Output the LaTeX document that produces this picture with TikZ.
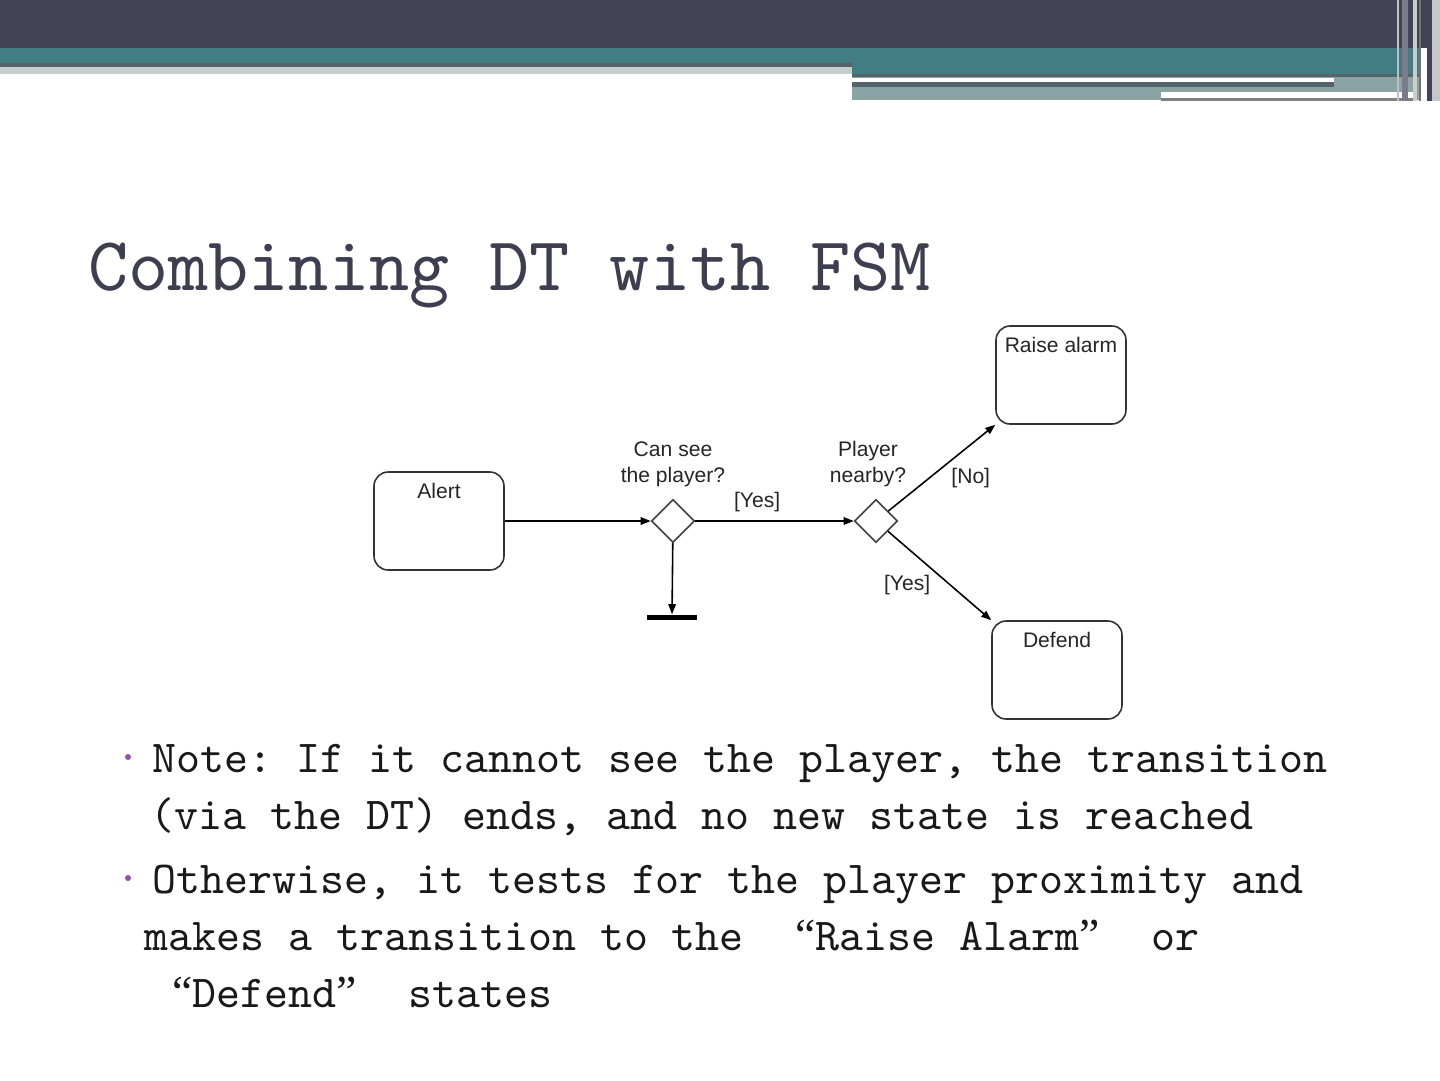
\documentclass[tikz,border=0pt]{standalone}
\usepackage{fontspec}
\setmainfont{Liberation Sans}
\newfontfamily\slidefont{lmmono10-regular.otf}
\newfontfamily\quotefont{Liberation Serif}
\newcommand\qopen{\makebox[0.525em][r]{\quotefont “}}
\newcommand\qclose{\makebox[0.525em][l]{\quotefont ”}}
\usepackage{tikz}
\usetikzlibrary{arrows.meta,positioning,shapes.geometric}
\definecolor{hdrdark}{RGB}{67,67,86}
\definecolor{hdrteal}{RGB}{66,125,132}
\definecolor{hdrslate}{RGB}{84,100,106}
\definecolor{hdrmist}{RGB}{138,163,165}
\definecolor{hdrpale}{RGB}{198,206,206}
\definecolor{titleslate}{RGB}{62,62,80}
\definecolor{bulletpurple}{RGB}{150,80,170}
\frenchspacing
\tikzset{
  state/.style={draw=black!80, line width=0.9pt, rounded corners=8pt, minimum width=2.6cm, inner xsep=0pt, inner ysep=0.2cm, text height=0.32cm, text depth=1.24cm, font=\fontsize{12}{14.8}\selectfont, text=black!85},
  choice/.style={draw=black!75, line width=0.9pt, diamond, inner sep=0pt, minimum width=0.86cm, minimum height=0.86cm},
  arr/.style={-{Triangle[length=2mm, width=1.5mm]}, line width=0.9pt},
  cond/.style={align=center, font=\fontsize{12}{14.8}\selectfont, text=black!85, inner sep=2pt},
  guard/.style={font=\fontsize{12}{14.8}\selectfont, text=black!85, inner sep=2pt},
  slidetitle/.style={anchor=base west, inner sep=0pt, font=\slidefont\fontsize{43.5}{52}\selectfont, text=titleslate},
  slidetext/.style={anchor=base west, inner sep=0pt, font=\slidefont\fontsize{26}{31}\selectfont, text=black!90},
  bulletdot/.style={circle, fill=bulletpurple, inner sep=0pt, minimum size=0.12cm}
}
\begin{document}
\begin{tikzpicture}[x=0.02cm, y=-0.02cm]
  \fill[white] (0,0) rectangle (1440,1080);
  \useasboundingbox (0,0) rectangle (1440,1080);
  % header bands
  \fill[hdrdark] (0,0) rectangle (1440,48);
  \fill[hdrteal] (0,48) rectangle (852,63);
  \fill[hdrslate] (0,63) rectangle (852,67);
  \fill[hdrpale] (0,67) rectangle (852,74);
  \fill[hdrteal] (852,48) rectangle (1420,74);
  \fill[hdrslate] (852,74) rectangle (1420,77);
  \fill[hdrmist] (852,77) rectangle (1420,100);
  \fill[white] (852,78) rectangle (1334,82);
  \fill[hdrslate] (852,82) rectangle (1334,87);
  \fill[white] (1161,92) rectangle (1414,98);
  \fill[black!50] (1161,98) rectangle (1414,101);
  \fill[black!25] (1397,0) rectangle (1399,101);
  \fill[hdrdark!70!white] (1402,0) rectangle (1408,101);
  \fill[black!20] (1413,0) rectangle (1417,101);
  \fill[black!55] (1419,0) rectangle (1421,101);
  \fill[hdrdark] (1427,0) rectangle (1432,101);
  \fill[black!22] (1432,0) rectangle (1440,101);

  \node[slidetitle] (title) at (88,290) {Combining DT with FSM};

  % diagram
  \node[state] (alert) at (439,521) {Alert};
  \node[choice] (see) at (673,521) {};
  \node[choice] (near) at (876,521) {};
  \node[state] (raise) at (1061,375) {Raise alarm};
  \node[state] (defend) at (1057,670) {Defend};
  \node[fill=black, inner sep=0pt, minimum width=1cm, minimum height=0.1cm] (halt) at (672,617) {};
  \node[cond, above=0.15cm of see] (seeq) {Can see\\the player?};
  \node[cond, above=0.15cm of near, xshift=-0.16cm] (nearq) {Player\\nearby?};
  \draw[arr] (alert) -- (see);
  \draw[arr] (see) -- node[guard, above=3pt, pos=0.39]{[Yes]} (near);
  \draw[arr] (see) -- (halt);
  \draw[arr] (near) -- node[guard, pos=0.55, anchor=north west]{[No]} (raise.south west);
  \draw[arr] (near) -- node[guard, pos=0.45, anchor=north east]{[Yes]} (defend.north west);

  % bullets
  \node[bulletdot] (b1) at (128,757) {};
  \node[slidetext] (l1) at (152,772) {Note: If it cannot see the player, the transition};
  \node[slidetext] (l2) at (150,829) {(via the DT) ends, and no new state is reached};
  \node[bulletdot] (b2) at (128,878) {};
  \node[slidetext] (l3) at (152,893) {Otherwise, it tests for the player proximity and};
  \node[slidetext] (l4) at (144,950) {makes a transition to the~ \qopen Raise Alarm\qclose~ or};
  \node[slidetext] (l5) at (144,1007) {~\qopen Defend\qclose~ states};
\end{tikzpicture}
\end{document}
